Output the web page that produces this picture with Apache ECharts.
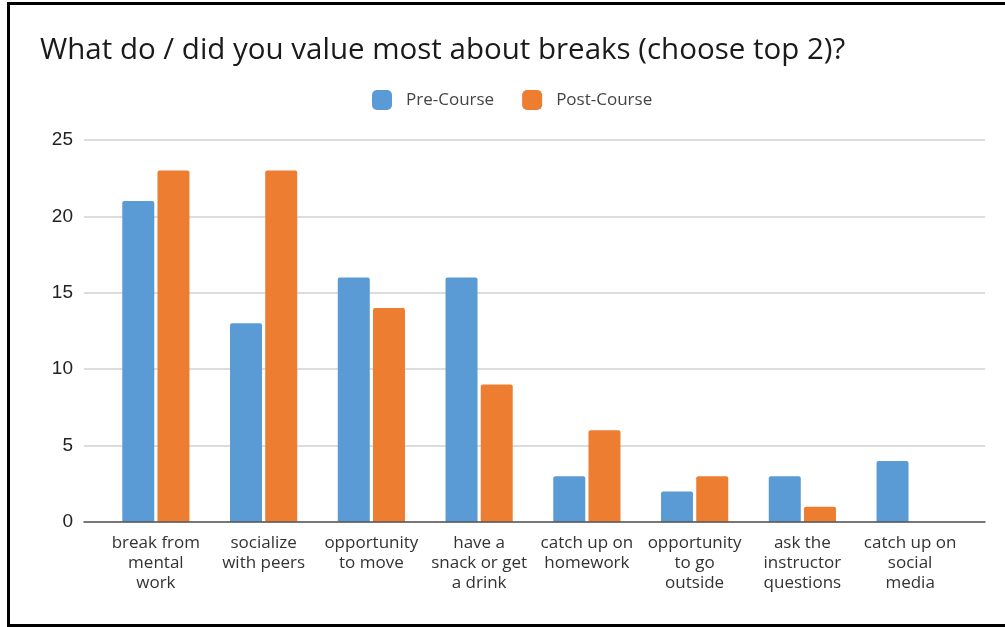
<!DOCTYPE html>
<html>
<head>
<meta charset="utf-8">
<script src="https://cdn.jsdelivr.net/npm/echarts@6/dist/echarts.min.js"></script>
<style>
html,body{margin:0;padding:0;background:#fff;}
#chart{width:1005px;height:627px;}
</style>
</head>
<body>
<div id="chart"></div>
<script>
var categories = [
  "break from\nmental\nwork",
  "socialize\nwith peers",
  "opportunity\nto move",
  "have a\nsnack or get\na drink",
  "catch up on\nhomework",
  "opportunity\nto go\noutside",
  "ask the\ninstructor\nquestions",
  "catch up on\nsocial\nmedia"
];
var preCourse = [21, 13, 16, 16, 3, 2, 3, 4];
var postCourse = [23, 23, 14, 9, 6, 3, 1, 0];
var yTicks = [0, 5, 10, 15, 20, 25];

var chart = echarts.init(document.getElementById('chart'));
chart.setOption({
  animation: false,
  backgroundColor: '#fff',
  title: {
    text: 'What do / did you value most about breaks (choose top 2)?',
    left: 35, top: 31,
    textStyle: {fontFamily: 'Open Sans', fontSize: 29.5, fontWeight: 'normal', color: '#1a1a1a'}
  },
  legend: {
    top: 85, left: 367,
    itemWidth: 20, itemHeight: 20, itemGap: 28,
    icon: 'roundRect',
    textStyle: {fontFamily: 'Open Sans', fontSize: 17, color: '#444', padding: [0,0,0,9]},
    data: ['Pre-Course', 'Post-Course']
  },
  graphic: [{
    type: 'rect', silent: true, z: 100,
    shape: {x: 8.5, y: 3.5, width: 1100, height: 622},
    style: {fill: 'none', stroke: '#000', lineWidth: 3}
  }],
  grid: [
    {left: 84, right: 20, top: 140, bottom: 105},
    {left: 102, right: 41, top: 140, bottom: 105}
  ],
  xAxis: [
    {type: 'category', gridIndex: 0, data: [''], axisTick: {show: false}, axisLabel: {show: false},
     axisLine: {show: true, lineStyle: {color: '#555', width: 1.5}}, z: 10},
    {type: 'category', gridIndex: 1, data: categories, axisTick: {show: false},
     axisLine: {show: false},
     axisLabel: {interval: 0, margin: 11, fontFamily: 'Open Sans', fontSize: 17, lineHeight: 20, color: '#333', align: 'center'}}
  ],
  yAxis: [
    {type: 'value', gridIndex: 0, min: yTicks[0], max: yTicks[yTicks.length-1], interval: 5,
     axisLine: {show: false}, axisTick: {show: false},
     splitLine: {lineStyle: {color: '#d0d0d0', width: 1.5}},
     axisLabel: {margin: 11, fontFamily: 'Liberation Sans', fontSize: 19, color: '#222'}},
    {type: 'value', gridIndex: 1, min: yTicks[0], max: yTicks[yTicks.length-1], interval: 5,
     show: false, splitLine: {show: false}}
  ],
  series: [
    {name: 'Pre-Course', type: 'bar', xAxisIndex: 1, yAxisIndex: 1, data: preCourse,
     barWidth: 32, barGap: '10%', itemStyle: {color: '#5B9BD5', borderRadius: [2,2,0,0]}},
    {name: 'Post-Course', type: 'bar', xAxisIndex: 1, yAxisIndex: 1, data: postCourse,
     barWidth: 32, barGap: '10%', itemStyle: {color: '#ED7D31', borderRadius: [2,2,0,0]}}
  ]
});
</script>
</body>
</html>
